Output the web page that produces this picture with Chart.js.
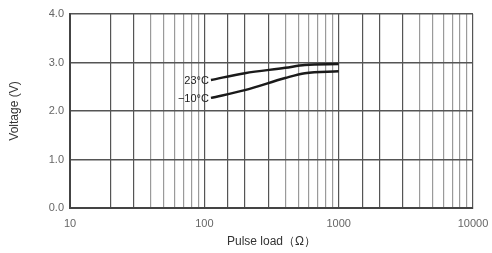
<!DOCTYPE html>
<html>
<head>
<meta charset="utf-8">
<script src="https://cdn.jsdelivr.net/npm/chart.js@4"></script>
<style>
  html, body { margin: 0; padding: 0; background: #fff; }
  #wrap { width: 492px; height: 253px; }
</style>
</head>
<body>
<div id="wrap"><canvas id="voltChart"></canvas></div>
<script>
// pulse load (ohm) and voltage
const loads = [112, 200, 400, 560, 1000];
const volt23 = [2.64, 2.78, 2.89, 2.95, 2.97];
const voltMinus10 = [2.27, 2.43, 2.68, 2.78, 2.82];
const curveNames = ['23\u00b0C', '\u221210\u00b0C'];
const xTickLabels = [10, 100, 1000, 10000];
const yTicks = [0, 1, 2, 3, 4];

function toPoints(ys) {
    return loads.map((x, i) => ({ x: x, y: ys[i] }));
}

const FONT = 'Liberation Sans, Arial, sans-serif';

// write the temperature names at the left end of each curve
const curveLabels = {
    id: 'curveLabels',
    afterDatasetsDraw(chart) {
        const ctx = chart.ctx;
        ctx.save();
        ctx.font = '11px ' + FONT;
        ctx.fillStyle = '#222';
        ctx.textAlign = 'right';
        ctx.textBaseline = 'middle';
        chart.data.datasets.forEach((ds, i) => {
            const p = chart.getDatasetMeta(i).data[0];
            ctx.fillText(curveNames[i], p.x - 2, p.y + 1);
        });
        ctx.restore();
    }
};

new Chart(document.getElementById('voltChart').getContext('2d'), {
    type: 'line',
    data: {
        datasets: [
            { label: curveNames[0], data: toPoints(volt23) },
            { label: curveNames[1], data: toPoints(voltMinus10) }
        ]
    },
    options: {
        responsive: true,
        maintainAspectRatio: false,
        animation: false,
        layout: { padding: { top: 14, right: 19, left: 0, bottom: 0 } },
        elements: {
            line: { borderColor: '#1a1a1a', borderWidth: 2.5, cubicInterpolationMode: 'monotone' },
            point: { radius: 0 }
        },
        plugins: {
            legend: { display: false },
            tooltip: { enabled: false }
        },
        scales: {
            x: {
                type: 'logarithmic',
                min: 10,
                max: 10000,
                afterFit(scale) {
                    scale.height = 45;
                    scale.paddingLeft = 0;
                    scale.paddingRight = 0;
                },
                grid: {
                    color(c) {
                        const v = c.tick ? c.tick.value : 0;
                        const m = v / Math.pow(10, Math.floor(Math.log10(v) + 1e-9));
                        const r = Math.round(m);
                        return (r === 1 || r === 2 || r === 3) ? '#555' : '#9a9a9a';
                    },
                    lineWidth: 1.2,
                    drawTicks: false
                },
                border: { color: '#444', width: 2 },
                ticks: {
                    autoSkip: false,
                    maxRotation: 0,
                    padding: 9,
                    color: '#666',
                    font: { family: FONT, size: 11 },
                    callback(v) {
                        return xTickLabels.includes(v) ? String(v) : '';
                    }
                },
                title: {
                    display: true,
                    text: 'Pulse load\uff08\u03a9\uff09',
                    color: '#333',
                    font: { family: FONT, size: 12 },
                    padding: { top: 3 }
                }
            },
            y: {
                min: 0,
                max: 4,
                afterFit(scale) { scale.width = 70; },
                afterBuildTicks(scale) {
                    scale.ticks = yTicks.map(v => ({ value: v }));
                },
                grid: { color: '#555', lineWidth: 1.5, drawTicks: false },
                border: { color: '#444', width: 2 },
                ticks: {
                    padding: 6,
                    color: '#666',
                    font: { family: FONT, size: 11 },
                    callback(v) { return v.toFixed(1); }
                },
                title: {
                    display: true,
                    text: 'Voltage (V)',
                    color: '#333',
                    font: { family: FONT, size: 12 },
                    padding: { top: 7, bottom: 4 }
                }
            }
        }
    },
    plugins: [curveLabels]
});
</script>
</body>
</html>
